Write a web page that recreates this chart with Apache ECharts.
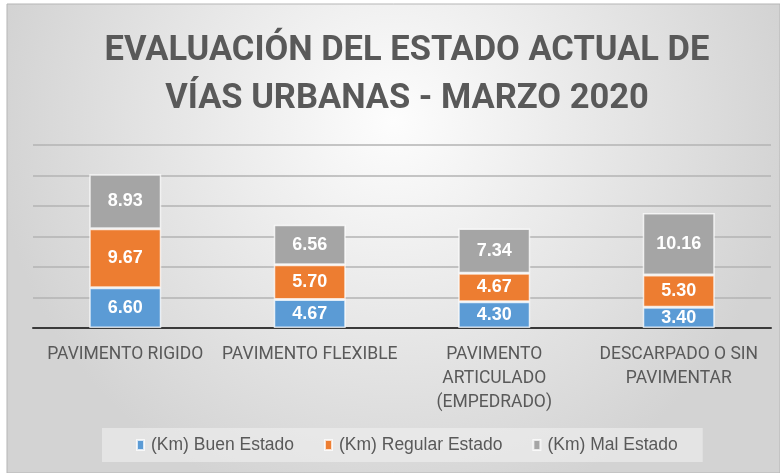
<!DOCTYPE html>
<html>
<head>
<meta charset="utf-8">
<script src="https://cdn.jsdelivr.net/npm/echarts@6/dist/echarts.min.js"></script>
<style>
  html, body { margin: 0; padding: 0; background: #fff; }
  #chart { width: 780px; height: 473px; }
</style>
</head>
<body>
<div id="chart"></div>
<script>
const categories = [
  "PAVIMENTO RIGIDO",
  "PAVIMENTO FLEXIBLE",
  "PAVIMENTO\nARTICULADO\n(EMPEDRADO)",
  "DESCARPADO O SIN\nPAVIMENTAR"
];
const buenEstado = [6.60, 4.67, 4.30, 3.40];
const regularEstado = [9.67, 5.70, 4.67, 5.30];
const malEstado = [8.93, 6.56, 7.34, 10.16];

const colors = ["#5B9BD5", "#ED7D31", "#A5A5A5"];
const capsFont = "Roboto, 'Liberation Sans', sans-serif";

const chart = echarts.init(document.getElementById("chart"));

const mkSeries = (name, data, i) => ({
  name,
  type: "bar",
  stack: "total",
  barWidth: "39%",
  data,
  itemStyle: {
    color: colors[i],
    borderColor: "rgba(255,255,255,0.75)",
    borderWidth: 1.5
  },
  label: {
    show: true,
    position: "inside",
    color: "#fff",
    fontFamily: "'Liberation Sans', sans-serif",
    fontWeight: "bold",
    fontSize: 18,
    formatter: p => p.value.toFixed(2)
  }
});

const option = {
  animation: false,
  title: {
    text: "EVALUACIÓN DEL ESTADO ACTUAL DE\nVÍAS URBANAS - MARZO 2020",
    left: 402,
    textAlign: "center",
    top: 22,
    textStyle: {
      fontFamily: capsFont,
      fontWeight: "bold",
      fontSize: 34.5,
      lineHeight: 48,
      color: "#595959"
    }
  },
  graphic: [{
    type: "rect",
    z: -10,
    silent: true,
    shape: { x: 7, y: 4, width: 773, height: 469 },
    style: {
      fill: new echarts.graphic.RadialGradient(0.5, 0.25, 0.85, [
        { offset: 0, color: "#fdfdfd" },
        { offset: 1, color: "#d3d3d3" }
      ]),
      stroke: "#b5b5b5",
      lineWidth: 1
    }
  }],
  legend: {
    top: 428,
    left: 102,
    backgroundColor: "rgba(240,240,240,0.6)",
    padding: [8, 25, 8, 34],
    itemGap: 30,
    itemWidth: 7,
    itemHeight: 10,
    icon: "rect",
    textStyle: {
      fontFamily: "'Liberation Sans', sans-serif",
      fontSize: 17.5,
      color: "#595959",
      padding: [0, 0, 0, 2]
    },
    data: ["(Km) Buen Estado", "(Km) Regular Estado", "(Km) Mal Estado"]
  },
  grid: { left: 33, right: 9, top: 145, bottom: 145, containLabel: false },
  xAxis: {
    type: "category",
    data: categories,
    axisTick: { show: false },
    axisLine: { lineStyle: { color: "#3a3a3a", width: 2 } },
    axisLabel: {
      margin: 15,
      interval: 0,
      fontFamily: capsFont,
      fontSize: 17.5,
      lineHeight: 24,
      color: "#595959"
    }
  },
  yAxis: {
    type: "value",
    min: 0,
    max: 30,
    interval: 5,
    axisLabel: { show: false },
    axisLine: { show: false },
    axisTick: { show: false },
    splitLine: { lineStyle: { color: "#b3b3b3", width: 1.5 } }
  },
  series: [
    mkSeries("(Km) Buen Estado", buenEstado, 0),
    mkSeries("(Km) Regular Estado", regularEstado, 1),
    mkSeries("(Km) Mal Estado", malEstado, 2)
  ]
};

chart.setOption(option);
</script>
</body>
</html>
